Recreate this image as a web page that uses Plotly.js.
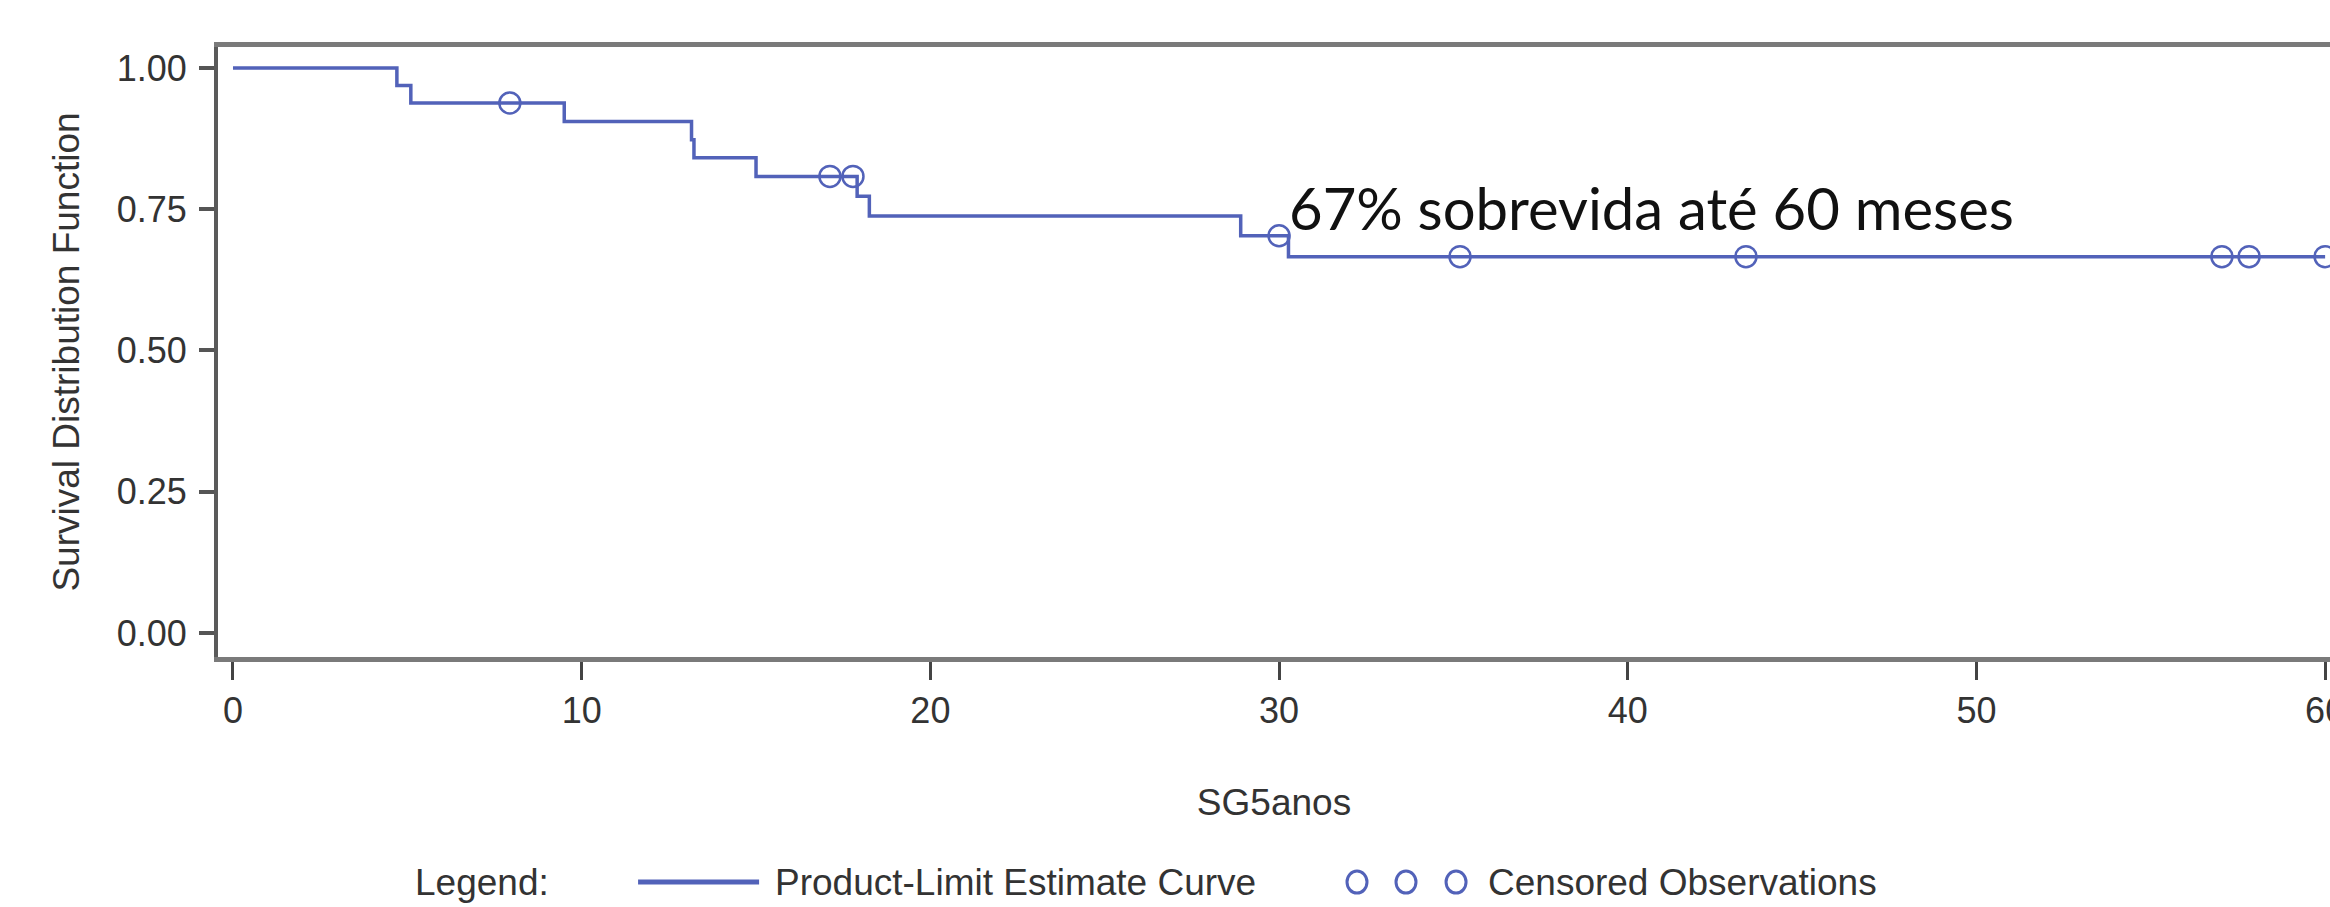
<!DOCTYPE html>
<html>
<head>
<meta charset="utf-8">
<script src="https://cdn.plot.ly/plotly-3.0.1.min.js"></script>
<style>html,body{margin:0;padding:0;background:#fff;}#chart{width:2330px;height:907px;}</style>
</head>
<body>
<div id="chart"></div>
<script>
// Kaplan-Meier step curve (months, survival)
const stepTimes = [0, 4.7, 5.1, 9.5, 13.15, 13.22, 15.0, 17.9, 18.25, 28.9, 30.27, 60];
const stepSurvival = [1.0, 0.969, 0.938, 0.905, 0.873, 0.841, 0.808, 0.773, 0.738, 0.703, 0.666, 0.666];
// Censored observations
const censorTimes = [7.94, 17.12, 17.78, 30.0, 35.19, 43.39, 57.04, 57.82, 60.0];
const censorSurvival = [0.938, 0.808, 0.808, 0.703, 0.666, 0.666, 0.666, 0.666, 0.666];
// Axis ticks
const xTicks = [0, 10, 20, 30, 40, 50, 60];
const yTicks = [0, 0.25, 0.5, 0.75, 1.0];
const yTickLabels = ['0.00', '0.25', '0.50', '0.75', '1.00'];

const curveColor = '#5262b9';
const textFont = 'Liberation Sans, Arial, sans-serif';
const textColor = '#333333';

const traces = [
  {
    x: stepTimes, y: stepSurvival, type: 'scatter', mode: 'lines',
    line: {shape: 'hv', color: curveColor, width: 3.5},
    hoverinfo: 'skip', showlegend: false
  },
  {
    x: censorTimes, y: censorSurvival, type: 'scatter', mode: 'markers',
    marker: {symbol: 'circle-open', size: 21, color: curveColor, line: {width: 2.5, color: curveColor}},
    hoverinfo: 'skip', showlegend: false
  }
];

const legY = -0.369;
const layout = {
  width: 2330, height: 907,
  margin: {l: 218, r: 0, t: 47, b: 250},
  paper_bgcolor: '#ffffff', plot_bgcolor: '#ffffff',
  font: {family: textFont, color: textColor, size: 36},
  showlegend: false,
  xaxis: {
    range: [-0.43, 60.14], tickvals: xTicks, ticktext: xTicks.map(String),
    showgrid: false, zeroline: false,
    showline: true, mirror: true, linecolor: '#7a7a7a', linewidth: 5,
    ticks: 'outside', ticklen: 18, tickwidth: 3, tickcolor: '#444444',
    ticklabeloverflow: 'allow',
    tickfont: {family: textFont, size: 36, color: textColor},
    title: {text: 'SG5anos', font: {family: textFont, size: 37, color: textColor}, standoff: 60}
  },
  yaxis: {
    range: [-0.0425, 1.037], tickvals: yTicks, ticktext: yTickLabels,
    showgrid: false, zeroline: false,
    showline: true, mirror: false, linecolor: '#5a5a5a', linewidth: 4,
    ticks: 'outside', ticklen: 15, tickwidth: 4, tickcolor: '#555555',
    ticklabelstandoff: 5,
    tickfont: {family: textFont, size: 36, color: textColor},
    title: {text: 'Survival Distribution Function', font: {family: textFont, size: 37, color: textColor}, standoff: 27}
  },
  annotations: [
    {text: '67% sobrevida até 60 meses', xref: 'paper', yref: 'paper', x: 0.506, y: 0.737,
     xanchor: 'left', yanchor: 'middle', showarrow: false,
     font: {family: 'Lato, Open Sans, sans-serif', size: 58, color: '#111111'}},
    {text: 'Legend:', xref: 'paper', yref: 'paper', x: 0.0923, y: legY,
     xanchor: 'left', yanchor: 'middle', showarrow: false,
     font: {family: textFont, size: 37, color: textColor}},
    {text: 'Product-Limit Estimate Curve', xref: 'paper', yref: 'paper', x: 0.2628, y: legY,
     xanchor: 'left', yanchor: 'middle', showarrow: false,
     font: {family: textFont, size: 37, color: textColor}},
    {text: 'Censored Observations', xref: 'paper', yref: 'paper', x: 0.6004, y: legY,
     xanchor: 'left', yanchor: 'middle', showarrow: false,
     font: {family: textFont, size: 37, color: textColor}}
  ],
  shapes: [
    {type: 'line', xref: 'paper', yref: 'paper', x0: 0.1989, x1: 0.2562, y0: legY, y1: legY,
     line: {color: curveColor, width: 5}},
    ...[0.5393, 0.5625, 0.5862].map(cx => ({
      type: 'circle', xref: 'paper', yref: 'paper', xsizemode: 'pixel', ysizemode: 'pixel',
      xanchor: cx, yanchor: legY, x0: -10, x1: 10, y0: -11, y1: 11,
      line: {color: curveColor, width: 3}
    }))
  ]
};

Plotly.newPlot('chart', traces, layout, {displayModeBar: false, staticPlot: true});
</script>
</body>
</html>
